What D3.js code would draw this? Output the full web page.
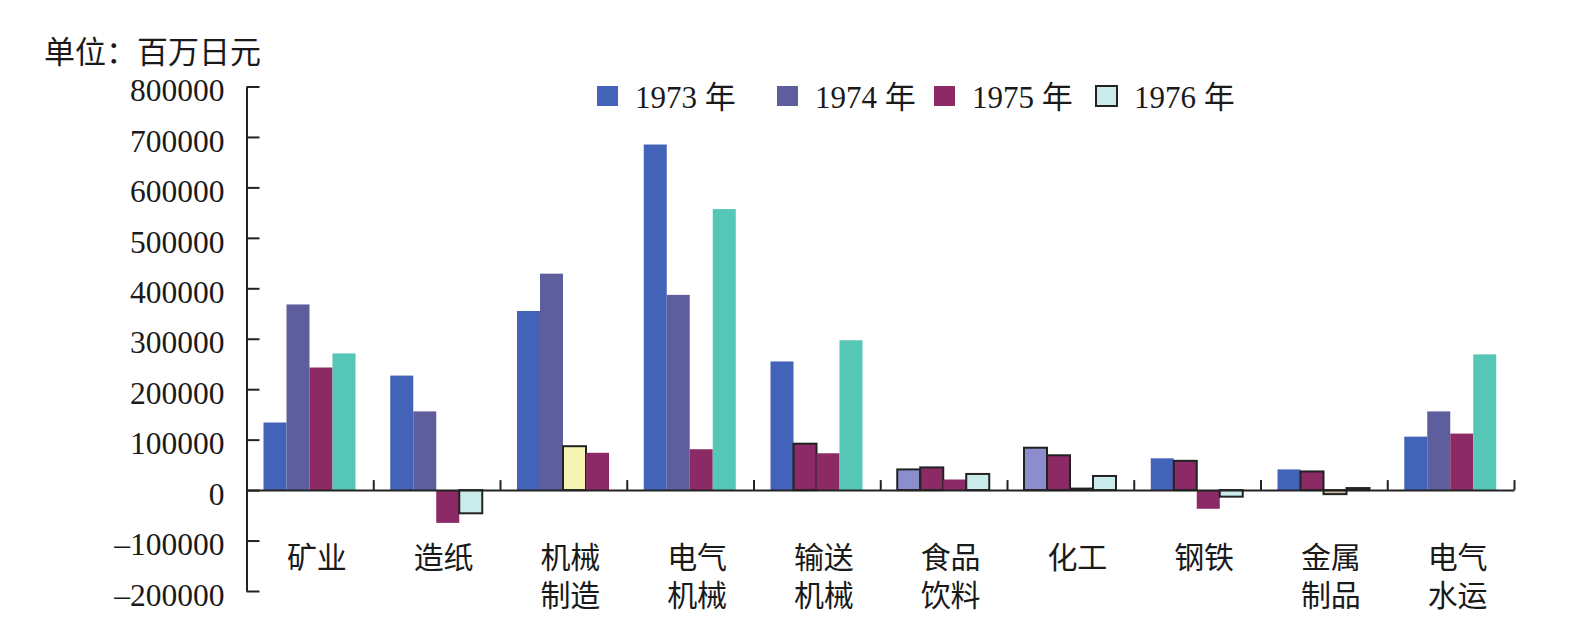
<!DOCTYPE html>
<html>
<head>
<meta charset="utf-8">
<script src="https://cdn.jsdelivr.net/npm/d3@7"></script>
<style>
  body { margin: 0; background: #fff; }
  svg text { font-family: "Liberation Serif", "Noto Sans CJK SC", serif; fill: #1a1a1a; }
</style>
</head>
<body>
<div id="chart"></div>
<script>
// data
const categories = ["矿业", "造纸", "机械制造", "电气机械", "输送机械", "食品饮料", "化工", "钢铁", "金属制品", "电气水运"];
const seriesNames = ["1973 年", "1974 年", "1975 年", "1976 年"];
const v1973 = [134000, 227000, 355000, 685000, 255000, 41000, 84000, 63000, 41000, 106000];
const v1974 = [368000, 156000, 429000, 387000, 92000, 45000, 69000, 58000, 37000, 156000];
const v1975 = [243000, -65000, 87000, 81000, 73000, 21000, 3000, -37000, -8000, 112000];
const v1976 = [271000, -46000, 74000, 557000, 297000, 32000, 28000, -13000, 4000, 269000];
const yTicks = [-200000, -100000, 0, 100000, 200000, 300000, 400000, 500000, 600000, 700000, 800000];

const seriesValues = [v1973, v1974, v1975, v1976];

// colours: series defaults, then the odd per-bar fills of the original print
const colors = ["#4363b8", "#5f5e9c", "#8c2a66", "#56c6b7"];
const oddBars = [
	// [category, series, fill, outlined]
	[1, 3, "#c9ecea", true],
	[2, 2, "#f6f4b3", true],
	[2, 3, "#8c2a66", false],
	[4, 1, "#8c2a66", true],
	[4, 2, "#8c2a66", false],
	[5, 0, "#8b8dcc", true],
	[5, 1, "#8c2a66", true],
	[5, 3, "#c9ecea", true],
	[6, 0, "#8b8dcc", true],
	[6, 1, "#8c2a66", true],
	[6, 2, "#333333", true],
	[6, 3, "#c9ecea", true],
	[7, 1, "#8c2a66", true],
	[7, 3, "#c9ecea", true],
	[8, 1, "#8c2a66", true],
	[8, 2, "#c9c2a6", true],
	[8, 3, "#333333", true]
];

const width = 1586, height = 643;
const plotLeft = 246.5, plotRight = 1514, plotTop = 86.5, plotBottom = 591;
const ink = "#222";

const svg = d3.select("#chart").append("svg")
	.attr("width", width)
	.attr("height", height);

const y = d3.scaleLinear()
	.domain([-200000, 800000])
	.range([plotBottom, plotTop]);

const x0 = d3.scaleBand()
	.domain(categories)
	.range([plotLeft, plotRight])
	.padding(0);

const x1 = d3.scaleBand()
	.domain(d3.range(seriesNames.length))
	.range([17, 109])
	.padding(0);

const rows = [];
categories.forEach((c, i) => {
	seriesValues.forEach((vals, s) => {
		const odd = oddBars.find(o => o[0] === i && o[1] === s);
		rows.push({
			cat: c,
			s: s,
			value: vals[i],
			fill: odd ? odd[2] : colors[s],
			outlined: odd ? odd[3] : false
		});
	});
});

// bars
svg.append("g")
	.selectAll("rect")
	.data(rows)
	.join("rect")
	.attr("x", d => x0(d.cat) + x1(d.s))
	.attr("width", x1.bandwidth())
	.attr("y", d => y(Math.max(0, d.value)))
	.attr("height", d => Math.abs(y(d.value) - y(0)))
	.attr("fill", d => d.fill)
	.attr("stroke", d => d.outlined ? ink : "none")
	.attr("stroke-width", 2);

// y axis, ticks point inward
const yAxis = svg.append("g")
	.attr("transform", `translate(${plotLeft},0)`)
	.call(d3.axisLeft(y)
		.tickValues(yTicks)
		.tickFormat(d3.format("d"))
		.tickSize(-13)
		.tickSizeOuter(0)
		.tickPadding(22));
yAxis.selectAll("path, line").attr("stroke", ink).attr("stroke-width", 2);
yAxis.selectAll("text")
	.style("font-size", "31.5px")
	.attr("dy", "0.45em")
	.text(d => d < 0 ? "\u2013" + Math.abs(d) : d);

// x axis at zero, ticks at group boundaries pointing up
const xb = d3.scaleLinear().domain([0, categories.length]).range([plotLeft, plotRight]);
const xAxis = svg.append("g")
	.attr("transform", `translate(0,${y(0)})`)
	.call(d3.axisBottom(xb)
		.tickValues(d3.range(1, categories.length + 1))
		.tickSize(-10)
		.tickSizeOuter(0)
		.tickFormat(""));
xAxis.selectAll("path, line").attr("stroke", ink).attr("stroke-width", 2);

// category labels, two characters per line
const labels = svg.append("g")
	.selectAll("text")
	.data(categories)
	.join("text")
	.attr("x", d => x0(d) + x0.bandwidth() / 2 + 7)
	.attr("y", 557)
	.attr("text-anchor", "middle")
	.attr("dominant-baseline", "central")
	.style("font-size", "30px");
labels.each(function(d) {
	const parts = d.length > 2 ? [d.slice(0, 2), d.slice(2)] : [d];
	d3.select(this).selectAll("tspan")
		.data(parts)
		.join("tspan")
		.attr("x", x0(d) + x0.bandwidth() / 2 + 7)
		.attr("dy", (p, k) => k === 0 ? 0 : 38)
		.text(p => p);
});

// unit label
svg.append("text")
	.attr("x", 44)
	.attr("y", 52)
	.attr("dominant-baseline", "central")
	.style("font-size", "31px")
	.text("单位：百万日元");

// legend
const legendX = [597, 777, 934, 1096];
const legend = svg.append("g")
	.selectAll("g")
	.data(seriesNames)
	.join("g")
	.attr("transform", (d, i) => `translate(${legendX[i]},96)`);
legend.append("rect")
	.attr("x", 0)
	.attr("y", -10)
	.attr("width", 21)
	.attr("height", 20)
	.attr("fill", (d, i) => i === 3 ? "#c9ecea" : colors[i])
	.attr("stroke", (d, i) => i === 3 ? ink : "none")
	.attr("stroke-width", 2);
legend.append("text")
	.attr("x", 38)
	.attr("y", 1)
	.attr("dominant-baseline", "central")
	.style("font-size", "31px")
	.text(d => d);
</script>
</body>
</html>
